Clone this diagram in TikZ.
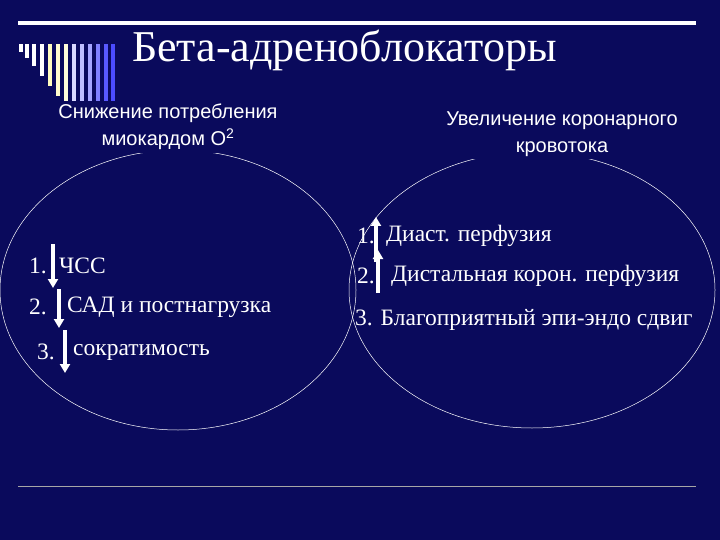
\documentclass[tikz,border=0pt]{standalone}
\usepackage{fontspec}
\setmainfont{Liberation Serif}
\newfontfamily\serf{Liberation Serif}
\newfontfamily\sanf{Liberation Sans}
\usetikzlibrary{arrows.meta}
\definecolor{bg}{HTML}{0A0A5C}
\begin{document}
\begin{tikzpicture}[x=1pt,y=-1pt,
  txt/.style={text=white,font=\serf\fontsize{23.5}{27}\selectfont,inner sep=1pt},
  hdr/.style={text=white,font=\sanf\fontsize{20}{27}\selectfont,fill=bg,align=center,inner sep=3pt},
  arr/.style={white,line width=3.5pt,-{Triangle[length=9pt,width=10pt]}}]
\fill[bg] (0,0) rectangle (720,540);
\useasboundingbox (0,0) rectangle (720,540);
\draw[white,line width=4pt] (18,23) -- (696,23);
\draw[gray!70,line width=0.8pt] (18,486) -- (696,486);
% bars
\foreach \x/\h/\c in {19/52/white,25/58/white,32/66/white,40/76/white,48/86/yellow!25,56/96/yellow!20,64/104/yellow!15,72/112/blue!15,80/118/blue!25,88/122/blue!35,96/126/blue!50,104/128/blue!65,111/128/blue!70}
  \fill[\c] (\x,44) rectangle (\x+4,\h);
\node[txt,font=\serf\fontsize{44}{48}\selectfont,anchor=west] (title) at (131,50) {Бета-адреноблокаторы};
\draw[white,line width=0.5pt] (178,290) ellipse (178 and 140);
\draw[white,line width=0.5pt] (532,290) ellipse (183 and 138);
\node[hdr] (hl) at (168,127) {Снижение потребления\\миокардом O\textsuperscript{2}};
\node[hdr] (hr) at (562,134) {Увеличение коронарного\\кровотока};
% left
\node[txt,anchor=west] (l1) at (28,266) {1.};
\coordinate (la1) at (53,244); \coordinate (lb1) at (53,288);
\draw[arr] (la1) -- (lb1);
\node[txt,anchor=west] (l1t) at (58,266) {ЧСС};
\node[txt,anchor=west] (l2) at (28,307) {2.};
\coordinate (la2) at (59,289); \coordinate (lb2) at (59,328);
\draw[arr] (la2) -- (lb2);
\node[txt,anchor=west] (l2t) at (66,307) {САД и постнагрузка};
\node[txt,anchor=west] (l3) at (36,352) {3.};
\coordinate (la3) at (65,330); \coordinate (lb3) at (65,373);
\draw[arr] (la3) -- (lb3);
\node[txt,anchor=west] (l3t) at (72,352) {сократимость};
% right
\node[txt,anchor=west] (r1) at (356,236) {1.};
\coordinate (ra1) at (376,262); \coordinate (rb1) at (376,217);
\draw[arr] (ra1) -- (rb1);
\node[txt,anchor=west] (r1t) at (385,236) {Диаст. перфузия};
\node[txt,anchor=west] (r2) at (356,276) {2.};
\coordinate (ra2) at (378,293); \coordinate (rb2) at (378,250);
\draw[arr] (ra2) -- (rb2);
\node[txt,anchor=west] (r2t) at (390,276) {Дистальная корон. перфузия};
\node[txt,anchor=west] (r3) at (354,320) {3. Благоприятный эпи-эндо сдвиг};
\end{tikzpicture}
\end{document}
